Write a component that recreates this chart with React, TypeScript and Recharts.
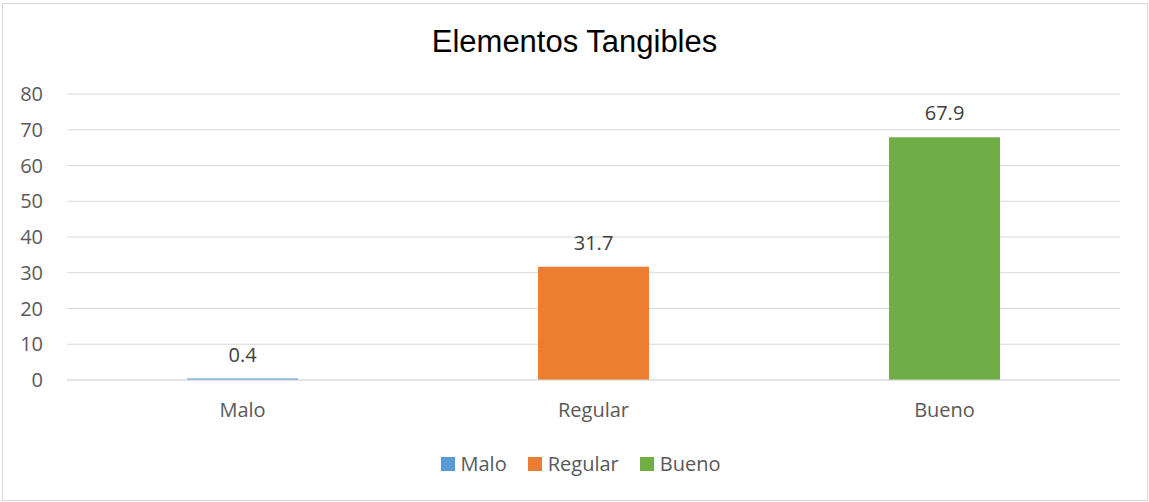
import React from "react";
import {
  BarChart,
  Bar,
  Cell,
  XAxis,
  YAxis,
  CartesianGrid,
  LabelList,
} from "recharts";

const categories = ["Malo", "Regular", "Bueno"];
const percentages = [0.4, 31.7, 67.9];
const barColors = ["#5b9bd5", "#ed7d31", "#70ad47"];
const yTicks = [0, 10, 20, 30, 40, 50, 60, 70, 80];

const data = categories.map((name, i) => ({ name, value: percentages[i] }));

const FONT = "'Open Sans', 'Noto Sans', sans-serif";
const W = 1149;
const H = 502;

function SeriesLegend() {
  return (
    <div
      style={{
        position: "absolute",
        top: 450,
        left: 6,
        width: W,
        display: "flex",
        justifyContent: "center",
        alignItems: "center",
        fontFamily: FONT,
        fontSize: 20,
        color: "#595959",
        lineHeight: "28px",
      }}
    >
      {categories.map((name, i) => (
        <div
          key={name}
          style={{
            display: "flex",
            alignItems: "center",
            marginRight: i < categories.length - 1 ? 21 : 0,
          }}
        >
          <span
            style={{
              display: "inline-block",
              width: 14,
              height: 14,
              background: barColors[i],
              marginRight: 6,
            }}
          />
          <span>{name}</span>
        </div>
      ))}
    </div>
  );
}

export default function App() {
  return (
    <div
      style={{
        position: "absolute",
        left: 0,
        top: 0,
        width: W,
        height: H,
        background: "#fff",
      }}
    >
      <div
        style={{
          position: "absolute",
          left: 2,
          top: 3,
          width: W - 3,
          height: H - 4,
          border: "1px solid #d9d9d9",
          boxSizing: "border-box",
          pointerEvents: "none",
        }}
      />
      <div
        style={{
          position: "absolute",
          top: 24,
          left: 0,
          width: W,
          textAlign: "center",
          fontFamily: "'Liberation Sans', Arial, sans-serif",
          fontSize: 31,
          lineHeight: "36px",
          color: "#000",
        }}
      >
        Elementos Tangibles
      </div>
      <div style={{ position: "absolute", left: 0, top: 0 }}>
        <BarChart
          width={W}
          height={H}
          data={data}
          margin={{ top: 94, right: 29, bottom: 72, left: 0 }}
          barCategoryGap="34.2%"
        >
          <CartesianGrid vertical={false} stroke="#d9d9d9" strokeWidth={1} />
          <YAxis
            domain={[0, 80]}
            ticks={yTicks}
            width={67}
            axisLine={false}
            tickLine={false}
            tickSize={0}
            tickMargin={24}
            interval={0}
            tick={{ fill: "#595959", fontSize: 20, fontFamily: FONT }}
          />
          <XAxis
            dataKey="name"
            height={50}
            axisLine={{ stroke: "#d9d9d9" }}
            tickLine={false}
            tickSize={0}
            tickMargin={23}
            tick={{ fill: "#595959", fontSize: 20, fontFamily: FONT }}
          />
          <Bar dataKey="value" isAnimationActive={false}>
            {data.map((d, i) => (
              <Cell key={d.name} fill={barColors[i]} />
            ))}
            <LabelList
              dataKey="value"
              position="top"
              offset={17}
              fill="#404040"
              fontSize={20}
              fontFamily={FONT}
            />
          </Bar>
        </BarChart>
      </div>
      <SeriesLegend />
    </div>
  );
}
